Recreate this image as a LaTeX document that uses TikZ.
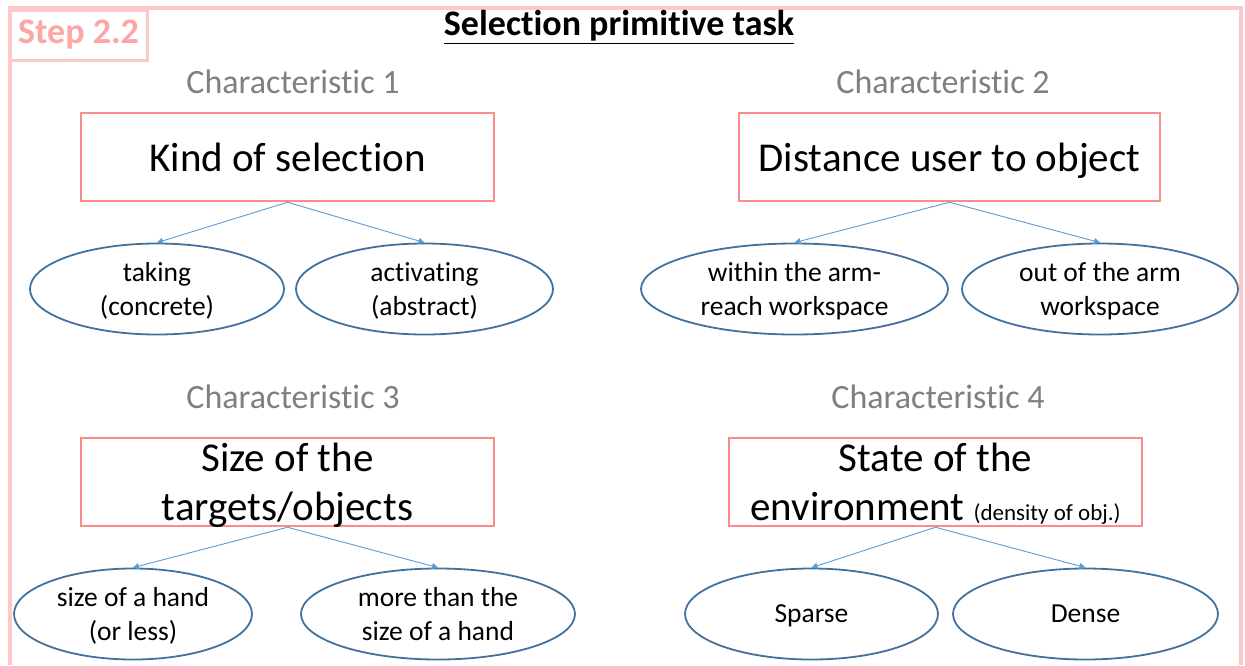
\documentclass[tikz,border=0pt]{standalone}
\usepackage{fontspec}
\setmainfont[Ligatures=NoCommon]{Carlito}
\usetikzlibrary{shapes.geometric,arrows.meta}
\definecolor{framepink}{RGB}{255,200,200}
\definecolor{steptext}{RGB}{255,165,165}
\definecolor{boxpink}{RGB}{250,140,140}
\definecolor{ellblue}{RGB}{65,113,156}
\definecolor{arrblue}{RGB}{91,155,213}
\definecolor{chargray}{RGB}{127,127,127}
\begin{document}
\begin{tikzpicture}[x=1pt,y=-1pt,
  box/.style={draw=boxpink,line width=2.5pt,minimum width=413pt,minimum height=88pt,inner sep=0pt,align=center,text depth=0pt,font=\fontsize{41}{49}\selectfont},
  choice/.style={ellipse,draw=ellblue,line width=1.8pt,minimum height=91pt,inner sep=0pt,align=center,text depth=0pt,font=\fontsize{27.5}{34}\selectfont},
  charlbl/.style={text=chargray,font=\fontsize{34}{38}\selectfont,inner sep=0pt},
  link/.style={draw=arrblue,line width=0.9pt,-{Triangle[length=6pt,width=6pt]}}]
\useasboundingbox (0,0) rectangle (1245,665);
% outer frame
\draw[framepink,line width=4pt] (10,665) -- (10,8) -- (1241,8) -- (1241,665);
% step box
\node[draw=framepink,line width=3pt,minimum width=137pt,minimum height=50pt,inner sep=0pt,text=steptext,font=\fontsize{36}{40}\selectfont\bfseries] (step) at (78.5,35) {Step 2.2};
% title
\node[font=\fontsize{36}{40}\selectfont\bfseries,inner sep=0pt] (title) at (619,27) {\underline{Selection primitive task}};
% characteristic labels
\node[charlbl] (c1) at (293,82) {Characteristic 1};
\node[charlbl] (c2) at (943,82) {Characteristic 2};
\node[charlbl] (c3) at (293,397) {Characteristic 3};
\node[charlbl] (c4) at (938,397) {Characteristic 4};
% boxes
\node[box] (b1) at (287.5,157) {Kind of selection};
\node[box,minimum width=421pt] (b2) at (949.5,157) {Distance user to object};
\node[box] (b3) at (287.5,482) {Size of the\\targets/objects};
\node[box] (b4) at (935.5,482) {State of the\\environment {\fontsize{23}{23}\selectfont (density of obj.)}};
% ellipses
\node[choice,minimum width=254pt] (e1) at (157,289) {taking\\(concrete)};
\node[choice,minimum width=257pt] (e2) at (424.5,289) {activating\\(abstract)};
\node[choice,minimum width=307pt] (e3) at (794.5,289) {within the arm-\\reach workspace};
\node[choice,minimum width=276pt] (e4) at (1100,289) {out of the arm\\workspace};
\node[choice,minimum width=238pt] (e5) at (133,614) {size of a hand\\(or less)};
\node[choice,minimum width=274pt] (e6) at (438,614) {more than the\\size of a hand};
\node[choice,minimum width=253pt] (e7) at (811.5,614) {Sparse};
\node[choice,minimum width=265pt] (e8) at (1085.5,614) {Dense};
% links
\draw[link] (b1.south) -- (e1.north);
\draw[link] (b1.south) -- (e2.north);
\draw[link] (b2.south) -- (e3.north);
\draw[link] (b2.south) -- (e4.north);
\draw[link] (b3.south) -- (e5.north);
\draw[link] (b3.south) -- (e6.north);
\draw[link] (b4.south) -- (e7.north);
\draw[link] (b4.south) -- (e8.north);
\end{tikzpicture}
\end{document}
